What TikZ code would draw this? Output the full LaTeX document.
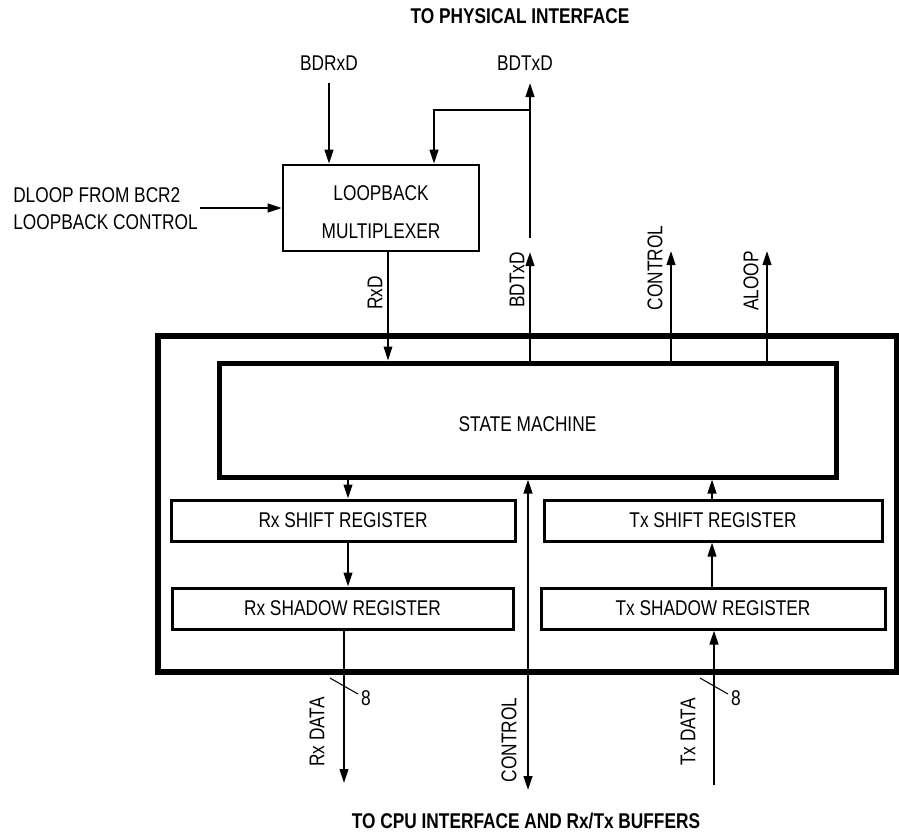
\documentclass[tikz,border=0pt]{standalone}
\usepackage{fontspec}
\setmainfont{Liberation Sans}[FakeStretch=0.81]
\usetikzlibrary{arrows.meta,calc}
\newdimen\upx
\upx=0.75pt
\tikzset{
  lbl/.style={inner sep=0pt, font=\fontsize{16}{19}\selectfont},
  vlbl/.style={lbl, rotate=90},
  title/.style={inner sep=0pt, font=\fontsize{16}{19}\selectfont\bfseries},
  arr/.style={line width=1.6pt, -{Triangle[length=10.5pt,width=6.5pt]}},
  darr/.style={line width=1.6pt, {Triangle[length=10.5pt,width=6.5pt]}-{Triangle[length=10.5pt,width=6.5pt]}},
  thinarr/.style={line width=1pt, -{Triangle[length=10.5pt,width=6.5pt]}},
  regbox/.style={draw, line width=2.25pt, inner sep=0pt, font=\fontsize{16}{19}\selectfont},
  slash/.style={line width=0.8pt},
}
\begin{document}
\begin{tikzpicture}[x=0.75pt,y=-0.75pt]
\useasboundingbox (0,0) rectangle (899,833);
% titles
\node[title] (ttop) at (520,16) {TO PHYSICAL INTERFACE};
\node[title] (tbot) at (526,821) {TO CPU INTERFACE AND Rx/Tx BUFFERS};
% boxes
\node[draw, line width=1.9pt, minimum width=196\upx, minimum height=86\upx, inner sep=0pt] (mux) at (381,208) {};
\node[inner sep=0pt, align=center, font=\fontsize{16}{28.5}\selectfont] (muxtxt) at (381,212) {LOOPBACK\\MULTIPLEXER};
\node[draw, line width=4.9pt, minimum width=739\upx, minimum height=336\upx, inner sep=0pt] (outer) at (527.5,504) {};
\node[draw, line width=3.75pt, minimum width=617\upx, minimum height=114\upx, inner sep=0pt, text height=23\upx,
      font=\fontsize{16}{19}\selectfont] (sm) at (527.5,420) {STATE MACHINE};
\node[regbox, minimum width=344\upx, minimum height=41\upx] (rxs) at (343,520.5) {Rx SHIFT REGISTER};
\node[regbox, minimum width=341\upx, minimum height=41\upx] (rxw) at (342.5,608.5) {Rx SHADOW REGISTER};
\node[regbox, minimum width=338\upx, minimum height=41\upx] (txs) at (713,520.5) {Tx SHIFT REGISTER};
\node[regbox, minimum width=344\upx, minimum height=41\upx] (txw) at (713,608.5) {Tx SHADOW REGISTER};
% top labels
\node[lbl] (bdrxd) at (329,63) {BDRxD};
\node[lbl] (bdtxd) at (525,63) {BDTxD};
\node[lbl, anchor=west, align=left, font=\fontsize{16}{20.3}\selectfont, inner sep=2\upx] (dloop) at (11,208.5) {DLOOP FROM BCR2\\LOOPBACK CONTROL};
% coordinates
\coordinate (bdrxdTop) at (329,83);
\coordinate (bdtxdTip) at (530,83);
\coordinate (bdtxdLow) at (530,238);
\coordinate (br) at (530,110);
\coordinate (fbx) at (434,0);
\coordinate (smTxTip) at (530,252);
\coordinate (ctlTip) at (671,251);
\coordinate (aloopTip) at (767,251);
\coordinate (rxdEnd) at (344,783);
\coordinate (ctlEnd) at (528,790);
\coordinate (txdStart) at (714,785);
% connectors top
\draw[arr] (bdrxdTop) -- (bdrxdTop |- mux.north);
\draw[arr] (bdtxdLow) -- (bdtxdTip);
\draw[arr] (br) -| (mux.north -| fbx);
\draw[arr] (dloop.east |- mux.west) -- (mux.west);
\draw[thinarr] (mux.south -| 388,0) -- (sm.north -| 388,0);
\node[vlbl] (rxdl) at (375,293) {RxD};
\draw[arr] (sm.north -| smTxTip) -- (smTxTip);
\node[vlbl] (bdtxdl) at (517,280) {BDTxD};
\draw[arr] (sm.north -| ctlTip) -- (ctlTip);
\node[vlbl] (ctll) at (655,268) {CONTROL};
\draw[arr] (sm.north -| aloopTip) -- (aloopTip);
\node[vlbl] (aloopl) at (751,281) {ALOOP};
% internal
\draw[arr] (sm.south -| 348,0) -- (rxs.north -| 348,0);
\draw[arr] (rxs.south -| 348,0) -- (rxw.north -| 348,0);
\draw[arr] (txs.north -| 712,0) -- (sm.south -| 712,0);
\draw[arr] (txw.north -| 712,0) -- (txs.south -| 712,0);
% bottom
\draw[arr] (rxw.south -| rxdEnd) -- (rxdEnd);
\draw[darr] (sm.south -| ctlEnd) -- (ctlEnd);
\draw[arr] (txdStart) -- (txdStart |- txw.south);
\coordinate (s1a) at (330,678); \coordinate (s1b) at (358,694);
\coordinate (s2a) at (700,678); \coordinate (s2b) at (728,694);
\draw[slash] (s1a) -- (s1b);
\draw[slash] (s2a) -- (s2b);
\node[lbl] (n8a) at (366,698) {8};
\node[lbl] (n8b) at (736,698) {8};
\node[vlbl] (rxdata) at (317,732) {Rx DATA};
\node[vlbl] (ctlb) at (509,740) {CONTROL};
\node[vlbl] (txdata) at (688,732) {Tx DATA};
\end{tikzpicture}
\end{document}
